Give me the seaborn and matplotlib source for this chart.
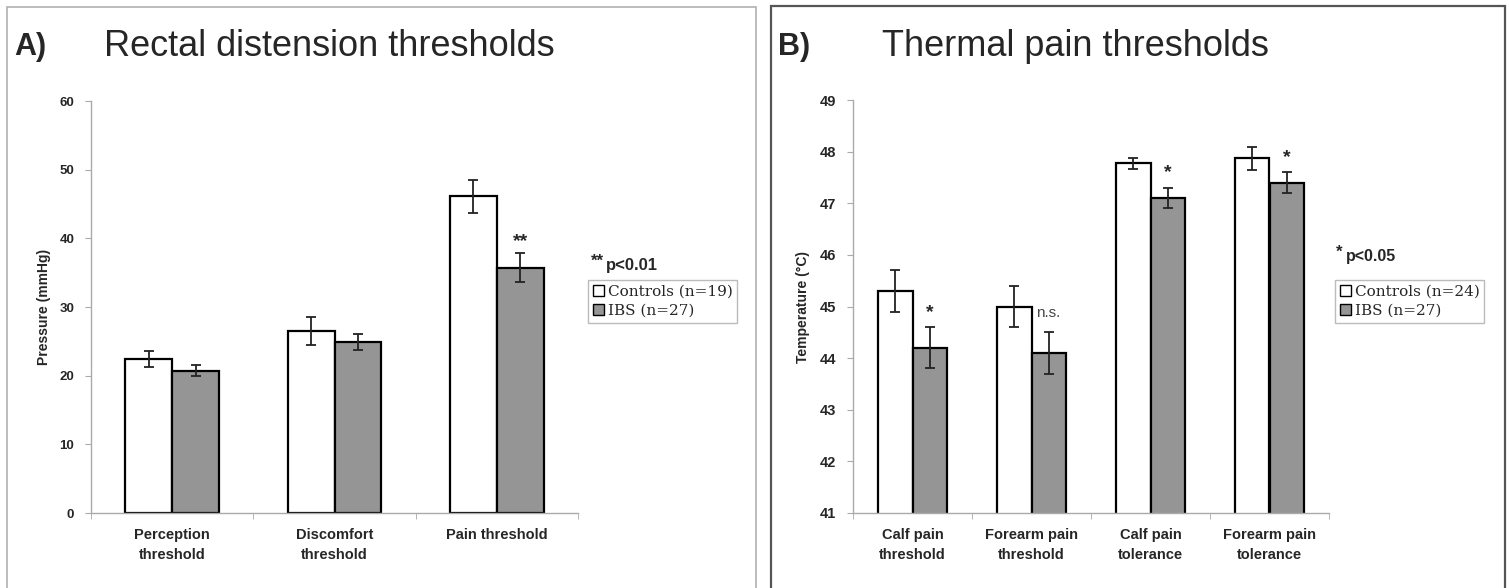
import pandas as pd
import numpy as np
import matplotlib
matplotlib.use("Agg")
import matplotlib.pyplot as plt
import seaborn as sns
from matplotlib.patches import Rectangle, Patch

# data
rectal_cats = ["Perception\nthreshold", "Discomfort\nthreshold", "Pain threshold"]
rectal_ctrl = [22.4, 26.5, 46.1]
rectal_ctrl_err = [1.2, 2.0, 2.4]
rectal_ibs = [20.7, 24.9, 35.7]
rectal_ibs_err = [0.8, 1.1, 2.1]

thermal_cats = ["Calf pain\nthreshold", "Forearm pain\nthreshold", "Calf pain\ntolerance", "Forearm pain\ntolerance"]
thermal_ctrl = [45.3, 45.0, 47.77, 47.87]
thermal_ctrl_err = [0.4, 0.4, 0.1, 0.22]
thermal_ibs = [44.2, 44.1, 47.1, 47.4]
thermal_ibs_err = [0.4, 0.4, 0.2, 0.2]
thermal_marks = ["*", "n.s.", "*", "*"]

sns.set_style("white")
plt.rcParams["font.family"] = ["Liberation Sans", "DejaVu Sans"]

fig = plt.figure(figsize=(15.09, 5.88), dpi=100)

# panel frames
fig.patches.append(Rectangle((7 / 1509, -0.05), 749 / 1509, 1 - 7 / 588 + 0.05, transform=fig.transFigure,
                             fill=False, edgecolor="#b0b0b0", lw=1.2))
fig.patches.append(Rectangle((771 / 1509, -0.05), 734 / 1509, 1 - 6 / 588 + 0.05, transform=fig.transFigure,
                             fill=False, edgecolor="#555555", lw=1.6))


def panel(ax, cats, ctrl, ctrl_err, ibs, ibs_err, ylim, yticks, ylabel, width, tickfs, lpad):
    df = pd.DataFrame({
        "cat": cats * 2,
        "val": ctrl + ibs,
        "grp": ["Controls"] * len(cats) + ["IBS"] * len(cats),
    })
    sns.barplot(data=df, x="cat", y="val", hue="grp", order=cats,
                palette={"Controls": "white", "IBS": "#959595"},
                edgecolor="black", linewidth=1.6, width=width, errorbar=None,
                legend=False, ax=ax)
    n = len(cats)
    bars = ax.patches[:2 * n]
    errs = ctrl_err + ibs_err
    vals = ctrl + ibs
    for b, v, e in zip(bars, vals, errs):
        ax.errorbar(b.get_x() + b.get_width() / 2, v, yerr=e, fmt="none",
                    ecolor="#222222", elinewidth=1.3, capsize=3.5, capthick=1.3)
    ax.set_ylim(*ylim)
    ax.set_xlim(-0.5, n - 0.5)
    ax.set_yticks(yticks)
    ax.set_yticklabels([str(t) for t in yticks], fontsize=tickfs, fontweight="bold")
    ax.set_xticks(range(n))
    ax.set_xticklabels(cats, fontsize=10.5, fontweight="bold", linespacing=1.5)
    ax.set_xticks(np.arange(-0.5, n, 1), minor=True)
    ax.tick_params(axis="x", which="major", length=0, pad=11)
    ax.tick_params(axis="x", which="minor", length=4, color="#aaaaaa", direction="out", bottom=True)
    ax.tick_params(axis="y", length=4, color="#aaaaaa", direction="out", left=True, pad=8)
    ax.set_xlabel("")
    ax.set_ylabel(ylabel, fontsize=10, fontweight="bold", labelpad=lpad)
    for s in ["top", "right"]:
        ax.spines[s].set_visible(False)
    for s in ["left", "bottom"]:
        ax.spines[s].set_color("#aaaaaa")
        ax.spines[s].set_linewidth(1.0)
    return bars


def legend(labels, anchor):
    handles = [Patch(facecolor="white", edgecolor="black", lw=1.0),
               Patch(facecolor="#959595", edgecolor="black", lw=1.0)]
    leg = fig.legend(handles, labels, loc="upper left", bbox_to_anchor=anchor,
                     prop={"family": "DejaVu Serif", "size": 11}, frameon=True,
                     fancybox=False, handlelength=0.75, handleheight=0.75,
                     handletextpad=0.25, borderpad=0.3, labelspacing=0.35,
                     borderaxespad=0)
    leg.get_frame().set_edgecolor("#aaaaaa")
    leg.get_frame().set_linewidth(1.0)


# ---- A) rectal distension
axA = fig.add_axes([91 / 1509, 1 - 513 / 588, 487 / 1509, 412 / 588])
barsA = panel(axA, rectal_cats, rectal_ctrl, rectal_ctrl_err, rectal_ibs, rectal_ibs_err,
              (0, 60), [0, 10, 20, 30, 40, 50, 60], "Pressure (mmHg)", 0.575, 9.5, 6)
b = barsA[5]
axA.text(b.get_x() + b.get_width() / 2, rectal_ibs[2] + rectal_ibs_err[2] + 0.5, "**",
         ha="center", va="bottom", fontsize=14, fontweight="bold")
fig.text(14 / 1509, 1 - 47 / 588, "A)", fontsize=22, fontweight="bold", va="center")
fig.text(104 / 1509, 1 - 47 / 588, "Rectal distension thresholds", fontsize=26, va="center")
fig.text(591 / 1509, 1 - 261 / 588, "**", fontsize=12, fontweight="bold", va="center")
fig.text(606 / 1509, 1 - 266 / 588, "p<0.01", fontsize=12, fontweight="bold", va="center")
legend(["Controls (n=19)", "IBS (n=27)"], (588 / 1509, 1 - 280 / 588))

# ---- B) thermal pain
axB = fig.add_axes([853 / 1509, 1 - 513 / 588, 476 / 1509, 413 / 588])
barsB = panel(axB, thermal_cats, thermal_ctrl, thermal_ctrl_err, thermal_ibs, thermal_ibs_err,
              (41, 49), [41, 42, 43, 44, 45, 46, 47, 48, 49], "Temperature (°C)", 0.575, 10.5, 7)
for i, m in enumerate(thermal_marks):
    b = barsB[4 + i]
    top = thermal_ibs[i] + thermal_ibs_err[i]
    if m == "n.s.":
        axB.text(b.get_x() + b.get_width() / 2, top + 0.38, m,
                 ha="center", va="center", fontsize=11, color="#444444")
    else:
        axB.text(b.get_x() + b.get_width() / 2, top + 0.12, m,
                 ha="center", va="bottom", fontsize=14, fontweight="bold")
fig.text(778 / 1509, 1 - 47 / 588, "B)", fontsize=22, fontweight="bold", va="center")
fig.text(882 / 1509, 1 - 47 / 588, "Thermal pain thresholds", fontsize=26, va="center")
fig.text(1336 / 1509, 1 - 252 / 588, "*", fontsize=12, fontweight="bold", va="center")
fig.text(1346 / 1509, 1 - 257 / 588, "p<0.05", fontsize=11.5, fontweight="bold", va="center")
legend(["Controls (n=24)", "IBS (n=27)"], (1335 / 1509, 1 - 280 / 588))

fig.savefig("out.png", dpi=100)
